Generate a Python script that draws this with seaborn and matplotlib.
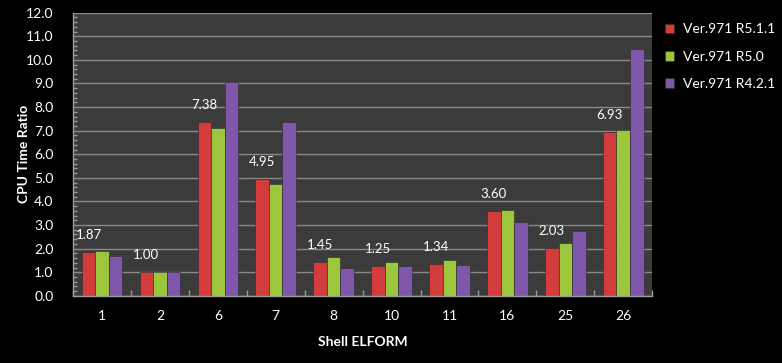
import matplotlib
matplotlib.use("Agg")
import matplotlib.pyplot as plt
import seaborn as sns
import pandas as pd
import numpy as np
from matplotlib.ticker import MultipleLocator, FixedLocator

categories = ["1", "2", "6", "7", "8", "10", "11", "16", "25", "26"]
series_names = ["Ver.971 R5.1.1", "Ver.971 R5.0", "Ver.971 R4.2.1"]
r511 = [1.87, 1.00, 7.38, 4.95, 1.45, 1.25, 1.34, 3.60, 2.03, 6.93]
r50 = [1.90, 1.00, 7.10, 4.74, 1.63, 1.43, 1.50, 3.62, 2.22, 7.02]
r421 = [1.70, 1.00, 9.06, 7.36, 1.17, 1.25, 1.31, 3.13, 2.74, 10.46]
colors = ["#d23c3c", "#9cc63c", "#7e56aa"]

rows = []
for name, vals in zip(series_names, [r511, r50, r421]):
    for c, v in zip(categories, vals):
        rows.append({"ELFORM": c, "Version": name, "Ratio": v})
df = pd.DataFrame(rows)

sns.set_theme(style="dark")
plt.rcParams["font.family"] = ["Lato", "DejaVu Sans"]

fig = plt.figure(figsize=(7.82, 3.63), dpi=100, facecolor="black")
ax = fig.add_axes([0.0934, 0.185, 0.7406, 0.78])
ax.set_facecolor("#3b3b3b")

sns.barplot(data=df, x="ELFORM", y="Ratio", hue="Version", order=categories,
            hue_order=series_names, palette=colors, width=0.7, saturation=1,
            edgecolor="#2a2a2a", linewidth=0.4, ax=ax)

ax.set_ylim(0, 12)
ax.set_xlim(-0.5, len(categories) - 0.5)
ax.yaxis.set_major_locator(MultipleLocator(1.0))
ax.yaxis.set_minor_locator(MultipleLocator(0.2))
ax.set_yticklabels([f"{t:.1f}" for t in ax.get_yticks()])
ax.grid(axis="y", which="major", color="#8a8a8a", linewidth=1.0)
ax.grid(axis="x", visible=False)
ax.set_axisbelow(True)

ax.xaxis.set_minor_locator(FixedLocator(np.arange(-0.5, len(categories), 1.0)))
ax.tick_params(axis="x", which="major", length=0, colors="white", labelsize=10, pad=10)
ax.tick_params(axis="x", which="minor", length=4, direction="in", color="#9a9a9a", bottom=True)
ax.tick_params(axis="y", which="major", length=0, colors="white", labelsize=10, pad=14)
ax.tick_params(axis="y", which="minor", length=3, direction="in", color="#9a9a9a", left=True)

for side in ["left", "bottom", "right", "top"]:
    ax.spines[side].set_color("#9a9a9a")
    ax.spines[side].set_linewidth(1.0)
ax.spines["top"].set_visible(False)
ax.spines["right"].set_visible(False)

ax.set_xlabel("Shell ELFORM", color="white", fontsize=10, fontweight="bold", labelpad=10)
ax.set_ylabel("CPU Time Ratio", color="white", fontsize=10, fontweight="bold", labelpad=-3)

ax.bar_label(ax.containers[0], labels=[f"{v:.2f}" for v in r511], padding=8,
             color="white", fontsize=9.5)

leg = ax.legend(loc="upper left", bbox_to_anchor=(0.834, 0.97), bbox_transform=fig.transFigure,
                frameon=False, fontsize=10, handlelength=0.7, handleheight=0.7,
                labelspacing=1.1, handletextpad=0.6)
for t in leg.get_texts():
    t.set_color("white")

fig.savefig("out.png", dpi=100, facecolor="black")
